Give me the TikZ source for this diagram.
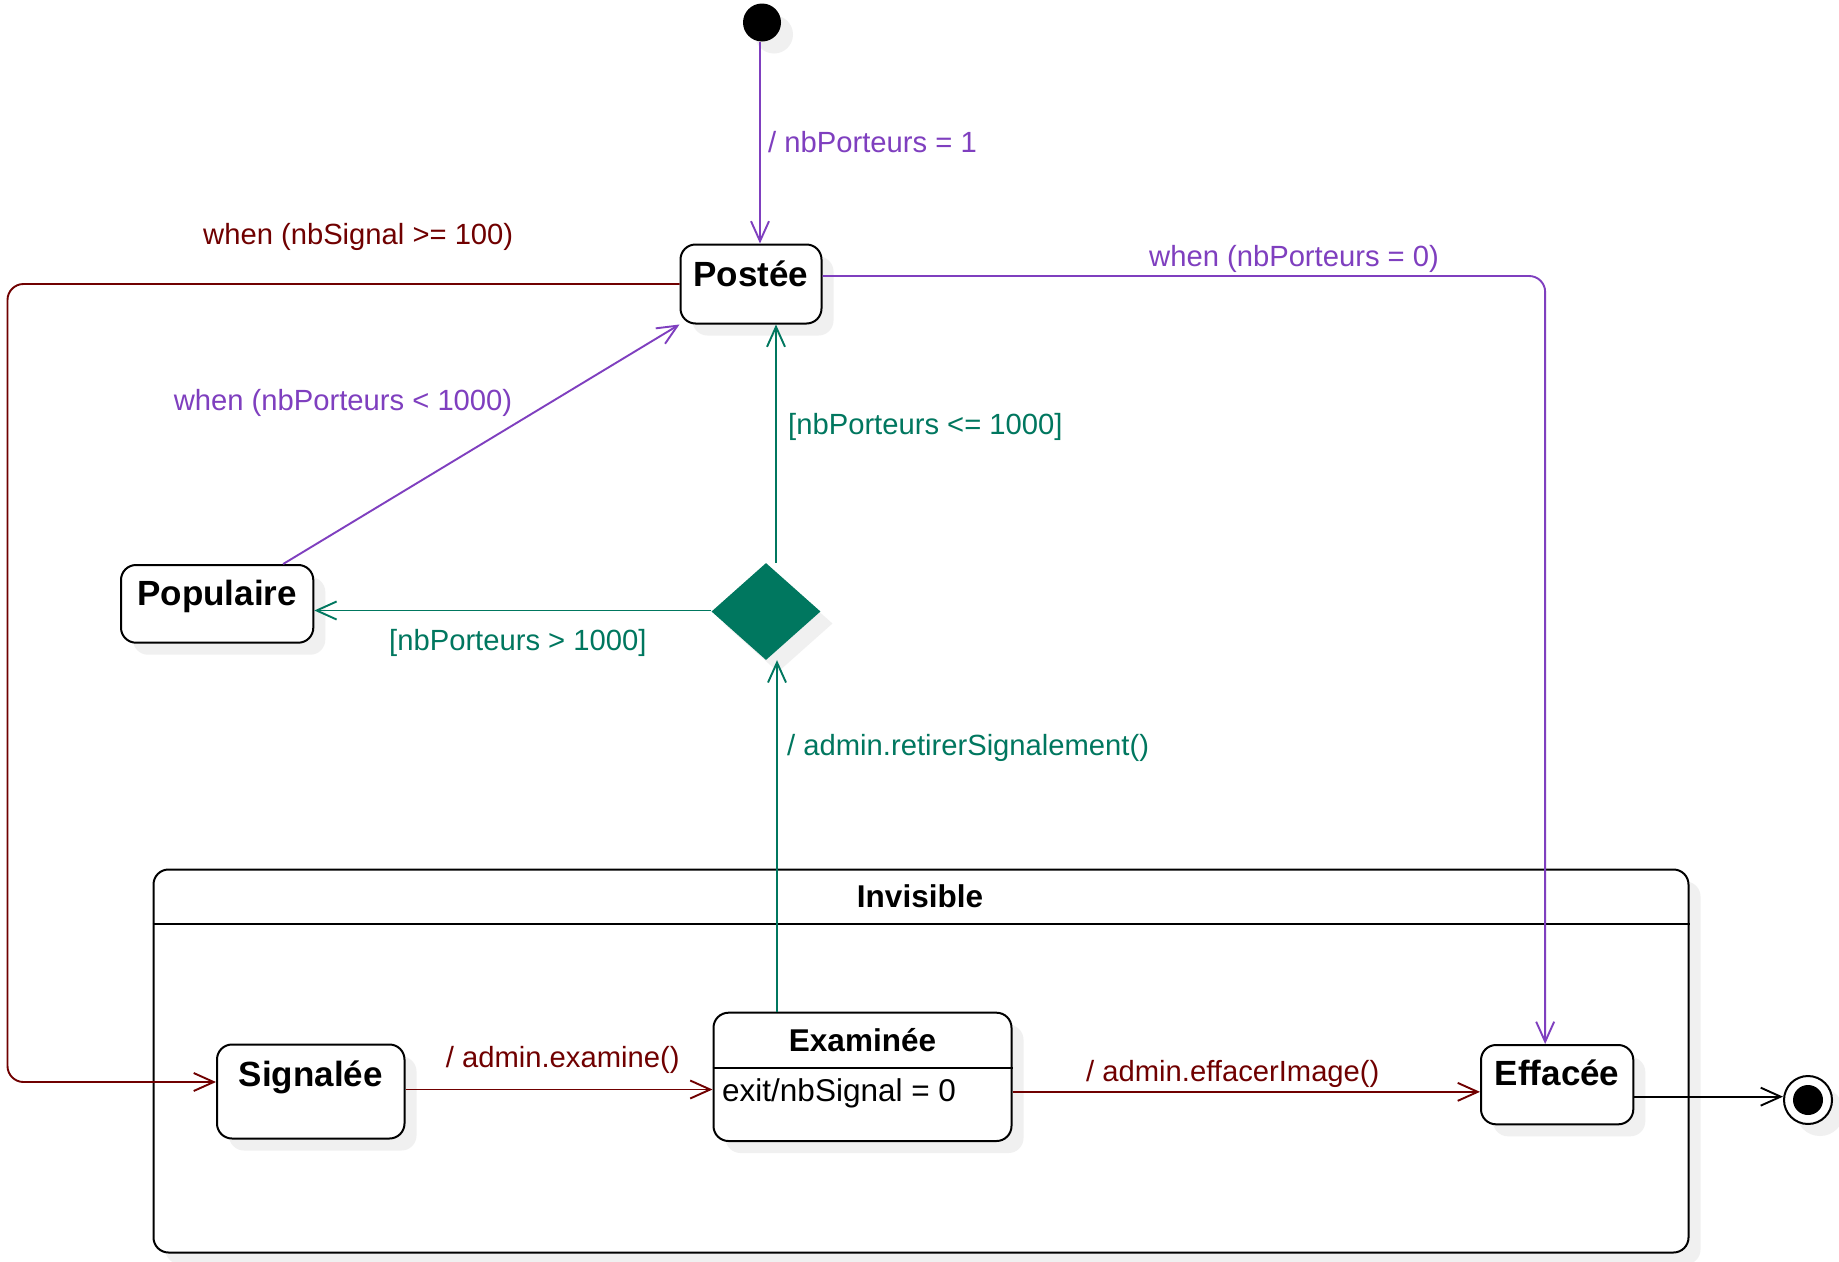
\documentclass[tikz,border=0pt]{standalone}
\usepackage{fontspec}
\setmainfont{Liberation Sans}
\usetikzlibrary{arrows.meta,shapes.geometric,shadows,calc}
\definecolor{purp}{HTML}{7F3FBF}
\definecolor{teal2}{HTML}{00775F}
\definecolor{maroon2}{HTML}{700000}
\definecolor{shadowgray}{HTML}{F0F0F0}
\tikzset{
 shd/.style={drop shadow={shadow xshift=12pt,shadow yshift=-12pt,fill=shadowgray,opacity=1}},
 statebox/.style={draw=black,line width=2pt,fill=white,rounded corners=15pt,inner sep=0pt,anchor=north west,shd},
 sname/.style={font=\fontsize{35}{40}\selectfont\bfseries,anchor=base,inner sep=0pt},
 sname2/.style={font=\fontsize{31.5}{36}\selectfont\bfseries,inner sep=0pt},
 lbl/.style={font=\fontsize{29.2}{34}\selectfont,inner sep=0pt,anchor=west},
 conn/.style={line width=1.9pt,-{Straight Barb[length=20pt,width=18pt,line width=1.9pt]}},
}
\begin{document}
\begin{tikzpicture}[x=1pt,y=-1pt]
\useasboundingbox[fill=white] (0,0) rectangle (1839,1261);

% composite state
\node[statebox,minimum width=1535pt,minimum height=383pt] (invisible) at (152.5,868.5) {};
\node[sname2] (invisible-t) at (920,896) {Invisible};
\coordinate (invdiv) at (0,924);
\draw[line width=2pt] (invisible.west |- invdiv) -- (invisible.east |- invdiv);

% pseudo states
\node[circle,fill=black,minimum size=38pt,inner sep=0pt,shd] (init) at (762,22.5) {};
\node[circle,draw=black,line width=2pt,fill=white,minimum size=48pt,inner sep=0pt,shd] (final) at (1808,1100) {};
\node[circle,fill=black,minimum size=30pt,inner sep=0pt] (final-in) at (final.center) {};
\node[diamond,fill=teal2,minimum width=109pt,minimum height=97pt,inner sep=0pt,shd] (dia) at (766,611.5) {};

% states
\node[statebox,minimum width=141pt,minimum height=79pt] (postee) at (679.5,243.5) {};
\node[sname] (postee-t) at ($(postee.north)+(0,43)$) {Postée};
\node[statebox,minimum width=192.3pt,minimum height=77.7pt] (populaire) at (120,564) {};
\node[sname] (populaire-t) at ($(populaire.north)+(0,41)$) {Populaire};
\node[statebox,minimum width=187.5pt,minimum height=94pt] (signalee) at (216,1043.5) {};
\node[sname] (signalee-t) at ($(signalee.north)+(0,43)$) {Signalée};
\node[statebox,minimum width=152.3pt,minimum height=79.3pt] (effacee) at (1480,1044) {};
\node[sname] (effacee-t) at ($(effacee.north)+(0,41)$) {Effacée};
\node[statebox,minimum width=298pt,minimum height=128.3pt] (exam) at (712.5,1011.7) {};
\node[sname2,anchor=base] (exam-t) at ($(exam.north)+(0,39.3)$) {Examinée};
\coordinate (exdiv) at (0,1068.3);
\draw[line width=2pt] (exam.west |- exdiv) -- (exam.east |- exdiv);
\node[font=\fontsize{31.5}{36}\selectfont,inner sep=0pt,anchor=base west] (exam-c) at (722,1101.7) {exit/nbSignal = 0};

% connectors
\draw[conn,purp] ([xshift=-2pt]init.south) -- ([xshift=-2pt]init.south |- postee.north);

\coordinate (lft) at (7.5,0);
\coordinate (sigin) at ([yshift=9.5pt]signalee.west);
\draw[conn,maroon2,rounded corners=16pt] (postee.west) -- (postee.west -| lft) -- (lft |- sigin) -- (sigin);

\coordinate (pe) at ([yshift=8pt]postee.east);
\coordinate (ein) at ([xshift=-12pt]effacee.north);
\draw[conn,purp,rounded corners=16pt] (pe) -- (pe -| ein) -- (ein);

\draw[conn,purp] ([xshift=66pt]populaire.north) -- (postee.south west);

\coordinate (dtop) at ([xshift=10pt]dia.north);
\draw[conn,teal2] (dtop) -- (dtop |- postee.south);

\draw[conn,teal2] ([yshift=1pt]dia.west) -- ([yshift=1pt]dia.west -| populaire.east);

\coordinate (eup) at ([xshift=-85.5pt]exam.north);
\draw[conn,teal2] (eup) -- (eup |- dia.south);

\draw[conn,maroon2] ([yshift=2pt]signalee.east) -- ([yshift=2pt]signalee.east -| exam.west);
\draw[conn,maroon2] ([yshift=-15pt]exam.east) -- ([yshift=-15pt]exam.east -| effacee.west);
\draw[conn,black] ([yshift=-12pt]effacee.east) -- ([yshift=-12pt]effacee.east -| final.west);

% labels
\node[lbl,text=purp] (l1) at (768,142.5) {/ nbPorteurs = 1};
\node[lbl,text=maroon2] (l2) at (203,236.5) {when (nbSignal >= 100)};
\node[lbl,text=purp] (l3) at (1149,258.5) {when (nbPorteurs = 0)};
\node[lbl,text=purp] (l4) at (173.6,402.5) {when (nbPorteurs < 1000)};
\node[lbl,text=teal2] (l5) at (788,426.5) {[nbPorteurs <= 1000]};
\node[lbl,text=teal2] (l6) at (389,642.5) {[nbPorteurs > 1000]};
\node[lbl,text=teal2] (l7) at (787,747.5) {/ admin.retirerSignalement()};
\node[lbl,text=maroon2] (l8) at (445.7,1059.5) {/ admin.examine()};
\node[lbl,text=maroon2] (l9) at (1086,1073.5) {/ admin.effacerImage()};
\end{tikzpicture}
\end{document}
